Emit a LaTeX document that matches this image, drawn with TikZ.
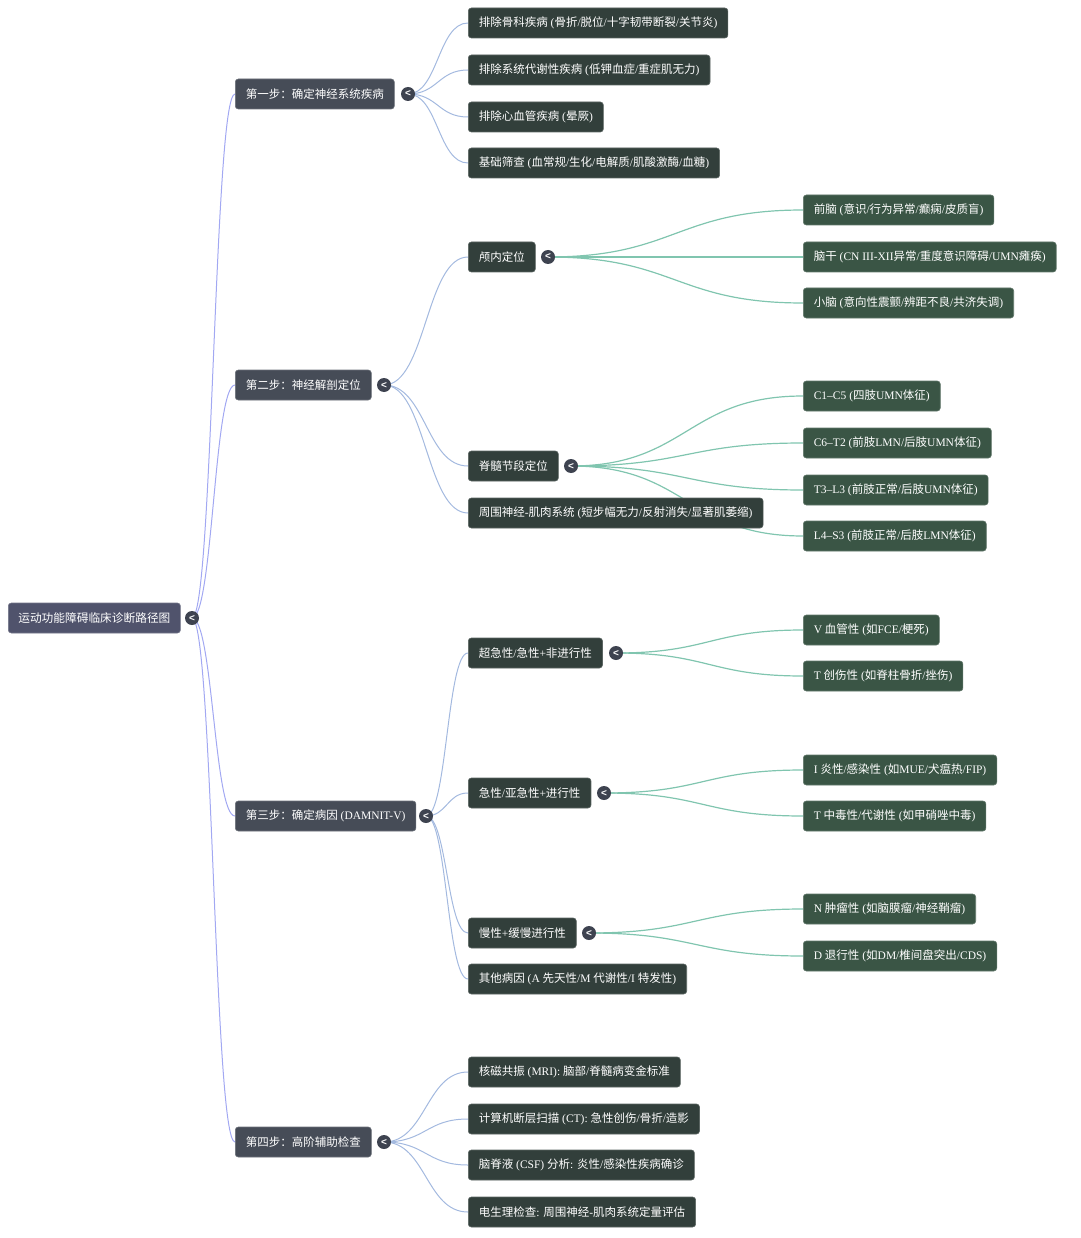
\documentclass[tikz,border=0pt]{standalone}
\usepackage{fontspec}
\usetikzlibrary{backgrounds}
\setmainfont{Liberation Serif}
\newfontfamily\cjk{Noto Sans CJK SC}
\newfontfamily\symf{Liberation Sans}
\XeTeXinterchartokenstate=1
\newXeTeXintercharclass\cjkclass
\newcount\cjkcnt
\cjkcnt="3000 \loop \XeTeXcharclass\cjkcnt=\cjkclass \advance\cjkcnt by 1 \ifnum\cjkcnt<"3040 \repeat
\cjkcnt="4E00 \loop \XeTeXcharclass\cjkcnt=\cjkclass \advance\cjkcnt by 1 \ifnum\cjkcnt<"A000 \repeat
\cjkcnt="FF00 \loop \XeTeXcharclass\cjkcnt=\cjkclass \advance\cjkcnt by 1 \ifnum\cjkcnt<"FFF0 \repeat
\XeTeXinterchartoks 0 \cjkclass = {\cjk}
\XeTeXinterchartoks 4095 \cjkclass = {\cjk}
\XeTeXinterchartoks \cjkclass 0 = {\rmfamily}
\XeTeXinterchartoks \cjkclass 4095 = {\rmfamily}
\definecolor{rootc}{HTML}{50536C}
\definecolor{stepc}{HTML}{464C57}
\definecolor{midc}{HTML}{323F3B}
\definecolor{leafc}{HTML}{3A5545}
\definecolor{togc}{HTML}{3E4350}
\definecolor{redgec}{HTML}{A2A8F2}
\definecolor{sedgec}{HTML}{A3B9DF}
\definecolor{ledgec}{HTML}{80C5AF}
\begin{document}
\begin{tikzpicture}[x=1pt,y=-1pt,
  box/.style={rounded corners=3pt, minimum height=30pt, inner xsep=10.5pt, inner ysep=0pt, anchor=west, text=white, font=\fontsize{11.5}{13}\selectfont, line width=0.6pt},
  rootbox/.style={box, fill=rootc, draw=rootc!80!white, font=\fontsize{11.7}{14}\selectfont, inner xsep=10pt},
  stepbox/.style={box, fill=stepc, draw=stepc!80!white},
  midbox/.style={box, fill=midc, draw=midc!80!white},
  leafbox/.style={box, fill=leafc, draw=leafc!80!white},
  tog/.style={circle, fill=togc, minimum size=14pt, inner sep=0pt, text=white, font=\symf\bfseries\fontsize{10}{10}\selectfont},
  redge/.style={draw=redgec, line width=1pt},
  sedge/.style={draw=sedgec, line width=1pt},
  ledge/.style={draw=ledgec, line width=1.2pt}]
\useasboundingbox (0,0) rectangle (1080,1238);

% root
\node[rootbox] (root) at (8,618) {运动功能障碍临床诊断路径图};
\node[tog] (t0) at (192,618) {<};

% steps
\node[stepbox] (s1) at (235,94) {第一步：确定神经系统疾病};
\node[stepbox] (s2) at (235,385) {第二步：神经解剖定位};
\node[stepbox] (s3) at (235,816) {第三步：确定病因 (DAMNIT-V)};
\node[stepbox] (s4) at (235,1142) {第四步：高阶辅助检查};
\node[tog] (t1) at (408,94) {<};
\node[tog] (t2) at (384,385) {<};
\node[tog] (t3) at (426,816) {<};
\node[tog] (t4) at (384,1142) {<};

% step 1 children
\node[midbox] (a1) at (468,23) {排除骨科疾病 (骨折/脱位/十字韧带断裂/关节炎)};
\node[midbox] (a2) at (468,70) {排除系统代谢性疾病 (低钾血症/重症肌无力)};
\node[midbox] (a3) at (468,117) {排除心血管疾病 (晕厥)};
\node[midbox] (a4) at (468,163) {基础筛查 (血常规/生化/电解质/肌酸激酶/血糖)};

% step 2 children
\node[midbox] (b1) at (468,257) {颅内定位};
\node[midbox] (b2) at (468,466) {脊髓节段定位};
\node[midbox] (b3) at (468,513) {周围神经-肌肉系统 (短步幅无力/反射消失/显著肌萎缩)};
\node[tog] (tb1) at (548,257) {<};
\node[tog] (tb2) at (571,466) {<};
\node[leafbox] (b11) at (803,210) {前脑 (意识/行为异常/癫痫/皮质盲)};
\node[leafbox] (b12) at (803,257) {脑干 (CN III-XII异常/重度意识障碍/UMN瘫痪)};
\node[leafbox] (b13) at (803,303) {小脑 (意向性震颤/辨距不良/共济失调)};
\node[leafbox] (b21) at (803,396) {C1–C5 (四肢UMN体征)};
\node[leafbox] (b22) at (803,443) {C6–T2 (前肢LMN/后肢UMN体征)};
\node[leafbox] (b23) at (803,490) {T3–L3 (前肢正常/后肢UMN体征)};
\node[leafbox] (b24) at (803,536) {L4–S3 (前肢正常/后肢LMN体征)};

% step 3 children
\node[midbox] (c1) at (468,653) {超急性/急性+非进行性};
\node[midbox] (c2) at (468,793) {急性/亚急性+进行性};
\node[midbox] (c3) at (468,933) {慢性+缓慢进行性};
\node[midbox] (c4) at (468,979) {其他病因 (A 先天性/M 代谢性/I 特发性)};
\node[tog] (tc1) at (616,653) {<};
\node[tog] (tc2) at (604,793) {<};
\node[tog] (tc3) at (589,933) {<};
\node[leafbox] (c11) at (803,630) {V 血管性 (如FCE/梗死)};
\node[leafbox] (c12) at (803,676) {T 创伤性 (如脊柱骨折/挫伤)};
\node[leafbox] (c21) at (803,770) {I 炎性/感染性 (如MUE/犬瘟热/FIP)};
\node[leafbox] (c22) at (803,816) {T 中毒性/代谢性 (如甲硝唑中毒)};
\node[leafbox] (c31) at (803,909) {N 肿瘤性 (如脑膜瘤/神经鞘瘤)};
\node[leafbox] (c32) at (803,956) {D 退行性 (如DM/椎间盘突出/CDS)};

% step 4 children
\node[midbox] (d1) at (468,1072) {核磁共振 (MRI): 脑部/脊髓病变金标准};
\node[midbox] (d2) at (468,1119) {计算机断层扫描 (CT): 急性创伤/骨折/造影};
\node[midbox] (d3) at (468,1165) {脑脊液 (CSF) 分析: 炎性/感染性疾病确诊};
\node[midbox] (d4) at (468,1212) {电生理检查: 周围神经-肌肉系统定量评估};

\begin{pgfonlayer}{background}
\foreach \n in {s1,s2,s3,s4}
  \draw[redge] (t0.center) .. controls +(21,0) and +(-21,0) .. (\n.west);
\foreach \n in {a1,a2,a3,a4}
  \draw[sedge] (t1.center) .. controls +(30,0) and +(-30,0) .. (\n.west);
\foreach \n in {b1,b2,b3}
  \draw[sedge] (t2.center) .. controls +(42,0) and +(-42,0) .. (\n.west);
\foreach \n in {c1,c2,c3,c4}
  \draw[sedge] (t3.center) .. controls +(21,0) and +(-21,0) .. (\n.west);
\foreach \n in {d1,d2,d3,d4}
  \draw[sedge] (t4.center) .. controls +(42,0) and +(-42,0) .. (\n.west);
\foreach \n in {b11,b12,b13}
  \draw[ledge] (tb1.center) .. controls +(127,0) and +(-127,0) .. (\n.west);
\foreach \n in {b21,b22,b23,b24}
  \draw[ledge] (tb2.center) .. controls +(116,0) and +(-116,0) .. (\n.west);
\foreach \n in {c11,c12}
  \draw[ledge] (tc1.center) .. controls +(93,0) and +(-93,0) .. (\n.west);
\foreach \n in {c21,c22}
  \draw[ledge] (tc2.center) .. controls +(100,0) and +(-100,0) .. (\n.west);
\foreach \n in {c31,c32}
  \draw[ledge] (tc3.center) .. controls +(107,0) and +(-107,0) .. (\n.west);
\end{pgfonlayer}
\end{tikzpicture}
\end{document}
